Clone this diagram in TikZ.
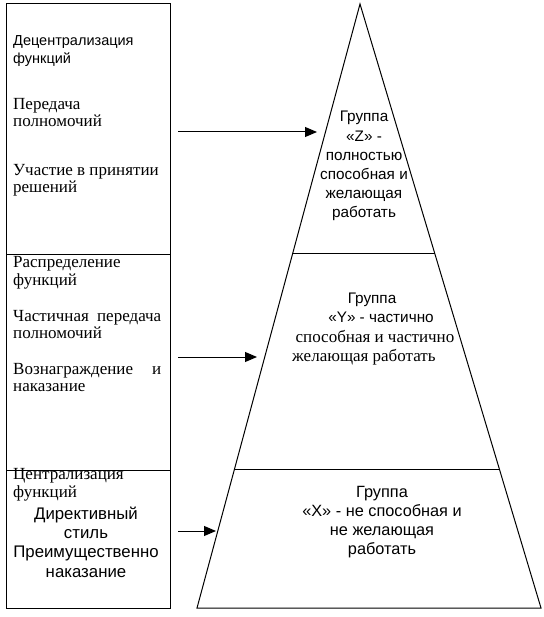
\documentclass[tikz,border=0pt]{standalone}
\usepackage{fontspec}
\setmainfont{Liberation Serif}
\setsansfont{Liberation Sans}
\usetikzlibrary{arrows.meta,calc}
\tikzset{
  ln/.style={line width=1pt, black},
  arr/.style={ln, -{Triangle[length=12pt,width=10pt]}},
  sfa/.style={font=\sffamily\fontsize{14.5}{18}\selectfont, inner sep=0pt},
  sfz/.style={font=\sffamily\fontsize{15.3}{19.2}\selectfont, inner sep=0pt},
  sfx/.style={font=\sffamily\fontsize{16.3}{19}\selectfont, inner sep=0pt},
  sfd/.style={font=\sffamily\fontsize{16.8}{19.3}\selectfont, inner sep=0pt},
  rm/.style={font=\rmfamily\fontsize{17}{17.5}\selectfont, inner sep=0pt},
  lefttxt/.style={anchor=base west, align=left},
}
\begin{document}
\begin{tikzpicture}[x=1pt,y=-1pt]
\useasboundingbox (0,0) rectangle (543,617);
% left box
\coordinate (bTL) at (6,4);
\coordinate (bBR) at (170,608);
\draw[ln] (bTL) rectangle (bBR);
\draw[ln] (6,254) coordinate (d1l) -- (170,254) coordinate (d1r);
\draw[ln] (6,470) coordinate (d2l) -- (170,470) coordinate (d2r);
% pyramid
\coordinate (apex) at (360,4);
\coordinate (bl) at (197,608);
\coordinate (br) at (541,608);
\draw[ln] (apex) -- (bl) -- (br) -- cycle;
\draw[ln] ($(apex)!0.4139!(bl)$) coordinate (p1l) -- ($(apex)!0.4139!(br)$) coordinate (p1r);
\draw[ln] ($(apex)!0.7715!(bl)$) coordinate (p2l) -- ($(apex)!0.7715!(br)$) coordinate (p2r);
% left texts (anchor = baseline of last line; with text width: first line)
\node[sfa, lefttxt] (t1) at (13,64) {Децентрализация\\функций};
\node[rm, lefttxt] (t2) at (13,127) {Передача\\полномочий};
\node[rm, lefttxt] (t3) at (13,193) {Участие в принятии\\решений};
\node[rm, lefttxt] (t4) at (13,285) {Распределение\\функций};
\node[rm, lefttxt, text width=148pt] (t5) at (13,321) {Частичная\hfill передача\\полномочий};
\node[rm, lefttxt, text width=148pt] (t6) at (13,374) {Вознаграждение\hfill и\\наказание};
\node[rm, lefttxt] (t7) at (13,497) {Централизация\\функций};
\node[sfd, anchor=base, align=center] (t8) at (86,577) {Директивный\\стиль\\Преимущественно\\наказание};
% right texts
\node[sfz, anchor=base, align=center] (z) at (364,218) {Группа\\«Z» -\\полностью\\способная и\\желающая\\работать};
\node[sfz, anchor=base] (y1) at (372,303) {Группа};
\node[sfz, anchor=base] (y2) at (381,322) {«Y» - частично};
\node[rm, anchor=base] (y3) at (375,342) {способная и частично};
\node[rm, anchor=base west] (y4) at (292,361) {желающая работать};
\node[sfx, anchor=base, align=center] (x) at (382,554) {Группа\\«Х» - не способная и\\не желающая\\работать};
% arrows
\coordinate (a1s) at (178,132); \coordinate (a1e) at (317,132);
\coordinate (a2s) at (178,357); \coordinate (a2e) at (257,357);
\coordinate (a3s) at (178,531); \coordinate (a3e) at (216,531);
\draw[arr] (a1s) -- (a1e);
\draw[arr] (a2s) -- (a2e);
\draw[arr] (a3s) -- (a3e);
\end{tikzpicture}
\end{document}
